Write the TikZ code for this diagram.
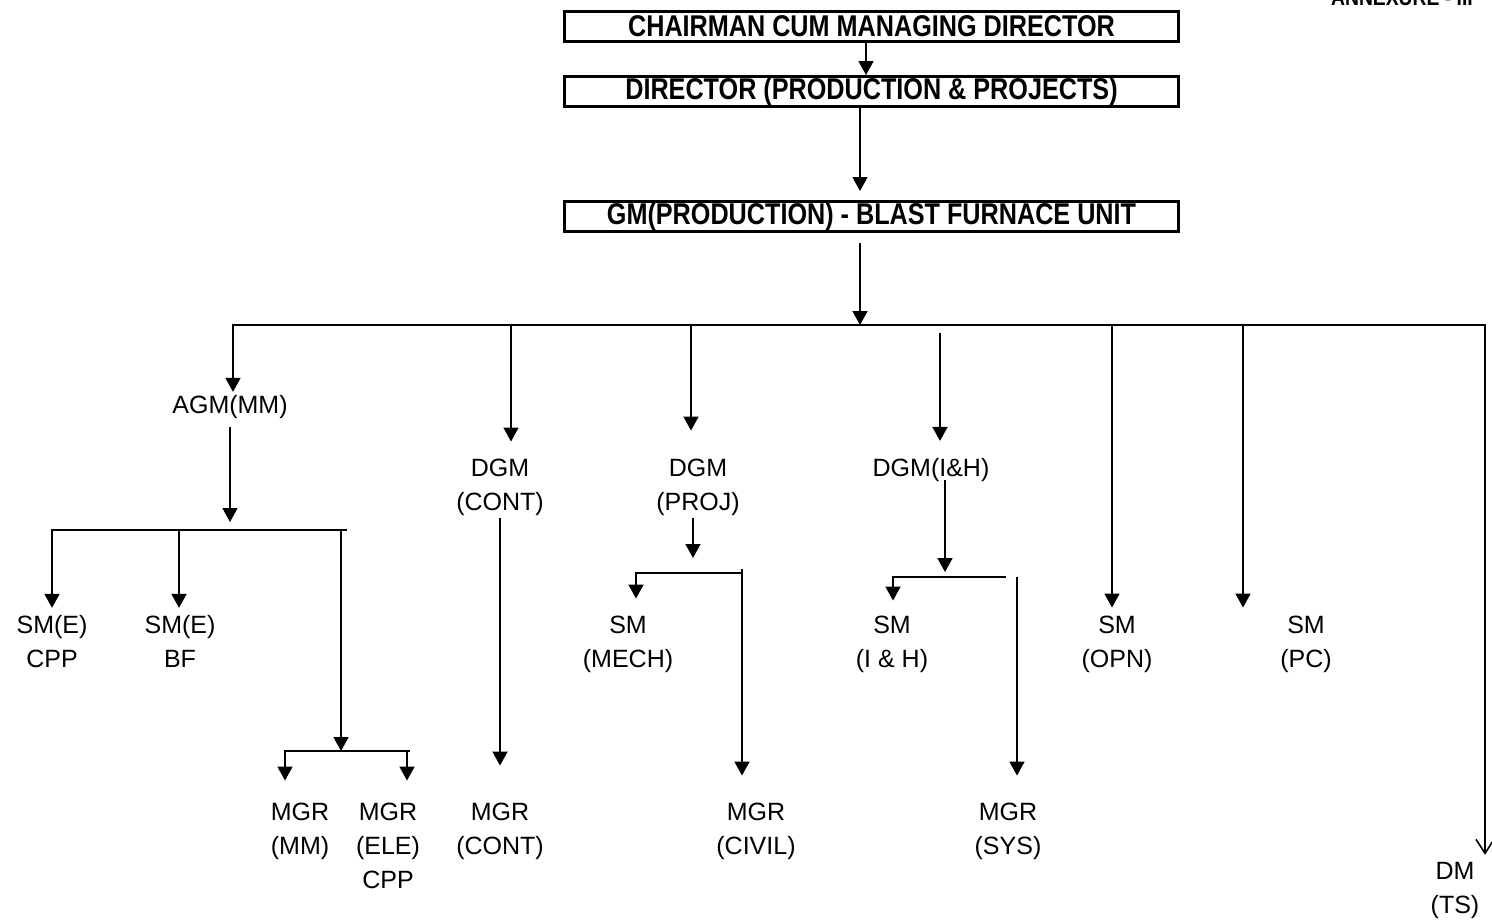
\documentclass[tikz,border=0pt]{standalone}
\usepackage{fontspec}
\setmainfont{Liberation Sans}
\newfontfamily\narrowfont[FakeStretch=0.84]{Liberation Sans}
\usepackage{tikz}
\usetikzlibrary{arrows.meta}

\begin{document}
\begin{tikzpicture}[
        x=1pt, y=-1pt,
        box/.style={rectangle, draw, line width=3pt, minimum width=614pt, minimum height=30pt, inner sep=0pt, font=\narrowfont\bfseries\fontsize{30}{30}\selectfont},
        post/.style={align=center, inner sep=0pt, outer sep=3pt, anchor=base, font=\fontsize{25}{34}\selectfont},
        arrow/.style={-{Triangle[length=14pt,width=15pt]}, line width=1.6pt},
        openarrow/.style={-{Straight Barb[length=14pt,width=18pt]}, line width=1.6pt},
        bus/.style={line width=1.6pt}
    ]
        \useasboundingbox (0,0) rectangle (1492,921);

        % top boxes
        \node[anchor=base east, inner sep=0pt, font=\narrowfont\bfseries\fontsize{23}{23}\selectfont] (annex) at (1473,5) {ANNEXURE - III};
        \node[box] (cmd) at (871.5,26.5) {CHAIRMAN CUM MANAGING DIRECTOR};
        \node[box] (dir) at (871.5,91.5) {DIRECTOR (PRODUCTION \& PROJECTS)};
        \node[box] (gm) at (871.5,216.5) {GM(PRODUCTION) - BLAST FURNACE UNIT};

        % posts (placed at the baseline of their last line)
        \node[post] (agm) at (230,413) {AGM(MM)};
        \node[post] (dgmcont) at (500,510) {DGM\\(CONT)};
        \node[post] (dgmproj) at (698,510) {DGM\\(PROJ)};
        \node[post] (dgmih) at (931,476) {DGM(I\&H)};
        \node[post] (smcpp) at (52,667) {SM(E)\\CPP};
        \node[post] (smbf) at (180,667) {SM(E)\\BF};
        \node[post] (smmech) at (628,667) {SM\\(MECH)};
        \node[post] (smih) at (892,667) {SM\\(I \& H)};
        \node[post] (smopn) at (1117,667) {SM\\(OPN)};
        \node[post] (smpc) at (1306,667) {SM\\(PC)};
        \node[post] (mgrmm) at (300,854) {MGR\\(MM)};
        \node[post] (mgrele) at (388,888) {MGR\\(ELE)\\CPP};
        \node[post] (mgrcont) at (500,854) {MGR\\(CONT)};
        \node[post] (mgrcivil) at (756,854) {MGR\\(CIVIL)};
        \node[post] (mgrsys) at (1008,854) {MGR\\(SYS)};
        \node[post] (dmts) at (1455,913) {DM\\(TS)};

        % bus points
        \coordinate (bGM) at (860,325);
        \coordinate (bL) at (233,325);
        \coordinate (bR) at (1485,325);
        \coordinate (bCont) at (511,325);
        \coordinate (bProj) at (691,325);
        \coordinate (bIH) at (940,325);
        \coordinate (bOpn) at (1112,325);
        \coordinate (bPc) at (1243,325);

        \coordinate (sA) at (230,530);
        \coordinate (sL) at (52,530);
        \coordinate (sBf) at (179,530);
        \coordinate (sMgr) at (341,530);
        \coordinate (sR) at (347,530);
        \coordinate (mB) at (341,751);
        \coordinate (mL) at (285,751);
        \coordinate (mEle) at (407,751);
        \coordinate (mR) at (410,751);

        \coordinate (pB) at (693,573);
        \coordinate (pL) at (636,573);
        \coordinate (pR) at (742,573);

        \coordinate (iTop) at (945,480);
        \coordinate (iB) at (945,577);
        \coordinate (iL) at (893,577);
        \coordinate (iR) at (1006,577);
        \coordinate (iSys) at (1017,577);

        % top chain
        \draw[arrow] ([xshift=-5.5pt]cmd.south) -- ([xshift=-5.5pt]dir.north);
        \draw[arrow, shorten >=9pt] ([xshift=-11.5pt]dir.south) -- ([xshift=-11.5pt]gm.north);
        \draw[arrow, shorten <=10pt] (gm.south -| bGM) -- (bGM);

        % main bus
        \draw[arrow] (bGM) -- (bL) -- (bL |- agm.north);
        \draw[openarrow, shorten >=4pt] (bGM) -- (bR) -- (bR |- dmts.north);
        \draw[arrow, shorten >=14pt] (bCont) -- (bCont |- dgmcont.north);
        \draw[arrow, shorten >=25pt] (bProj) -- (bProj |- dgmproj.north);
        \draw[arrow, shorten <=8pt, shorten >=14pt] (bIH) -- (bIH |- dgmih.north);
        \draw[arrow, shorten >=5pt] (bOpn) -- (bOpn |- smopn.north);
        \draw[arrow, shorten >=5pt] (bPc) -- (bPc |- smpc.north);

        % AGM(MM)
        \draw[arrow, shorten <=6pt, shorten >=8pt] (agm.south -| sA) -- (sA);
        \draw[arrow, shorten >=4pt] (sR) -- (sL) -- (sL |- smcpp.north);
        \draw[arrow, shorten >=4pt] (sBf) -- (sBf |- smbf.north);
        \draw[arrow] (sMgr) -- (mB);
        \draw[arrow, shorten >=19pt] (mR) -- (mL) -- (mL |- mgrmm.north);
        \draw[arrow, shorten >=19pt] (mEle) -- (mEle |- mgrele.north);

        % DGM(CONT)
        \draw[arrow, shorten >=34pt] (dgmcont) -- (mgrcont);

        % DGM(PROJ)
        \draw[arrow, shorten >=15pt] (dgmproj.south -| pB) -- (pB);
        \draw[arrow, shorten >=14pt] (pR) -- (pL) -- (pL |- smmech.north);
        \draw[arrow, shorten >=24pt] ([yshift=4pt]pR) -- (pR |- mgrcivil.north);

        % DGM(I&H)
        \draw[arrow, shorten >=5pt] (iTop) -- (iB);
        \draw[arrow, shorten >=12pt] (iR) -- (iL) -- (iL |- smih.north);
        \draw[arrow, shorten >=24pt] (iSys) -- (iSys |- mgrsys.north);
    \end{tikzpicture}
\end{document}
